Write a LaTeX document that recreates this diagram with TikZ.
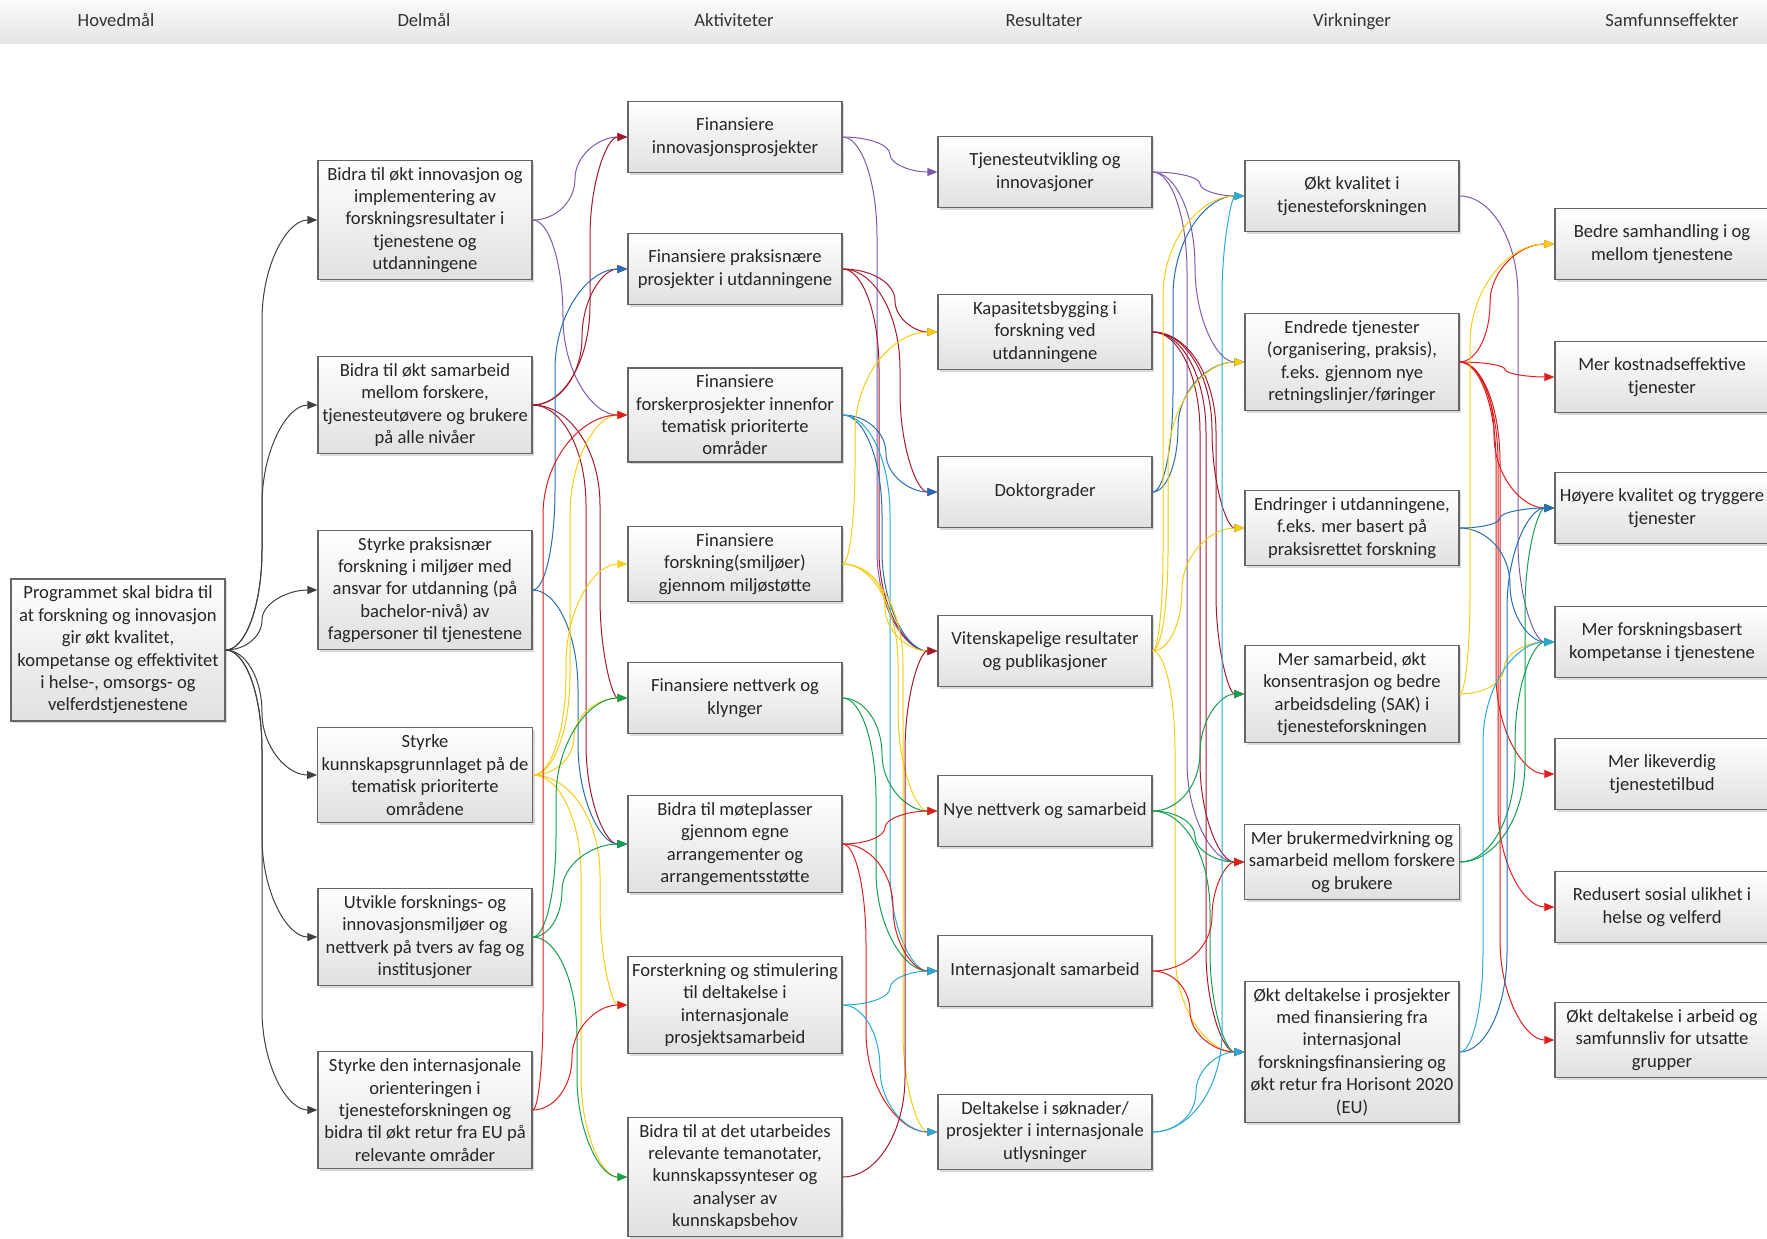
\documentclass[tikz,border=0pt]{standalone}
\usepackage{fontspec}
\setmainfont{Carlito}
\usetikzlibrary{arrows.meta, calc, shadows}
\definecolor{colGray}{RGB}{64,64,64}
\definecolor{colPurple}{RGB}{128,90,170}
\definecolor{colMaroon}{RGB}{165,25,45}
\definecolor{colRed}{RGB}{225,30,30}
\definecolor{colBlue}{RGB}{40,110,180}
\definecolor{colYellow}{RGB}{245,205,20}
\definecolor{colGreen}{RGB}{20,160,80}
\definecolor{colCyan}{RGB}{40,170,215}

% curved connector: colour, from, to, x of its vertical run
\newcommand\conn[4]{%
  \draw[link,#1] let \p1=(#2.east), \p2=(#3.west), \p3=(#4,0),
      \n1={2*(\y2>\y1)-1}, \n2={min(abs(\y2-\y1)/2,50)} in
    (\p1) .. controls ({\x1+0.55*(\x3-\x1)},\y1) and (\x3,{\y1+0.45*\n1*\n2}) .. (\x3,{\y1+\n1*\n2})
    -- (\x3,{\y2-\n1*\n2})
    .. controls (\x3,{\y2-0.45*\n1*\n2}) and ({\x2-0.55*(\x2-\x3)},\y2) .. (\p2);}

\begin{document}
\begin{tikzpicture}[
  x=0.5pt, y=-0.5pt,
  box/.style={rectangle, draw=black!60, line width=0.6pt, top color=white, bottom color=black!12,
              drop shadow={shadow xshift=1.2pt, shadow yshift=-1.2pt, opacity=0.3},
              minimum width=107pt, minimum height=35.5pt, inner xsep=2pt, inner ysep=3.5pt,
              font=\fontsize{9.3}{11.2}\selectfont, align=center, text=black!85},
  head/.style={font=\fontsize{9.3}{11.2}\selectfont, text=black!80, text height=1.6ex, text depth=0.4ex},
  link/.style={-{Triangle[length=5pt,width=4pt]}, line width=0.5pt},
]
\useasboundingbox (0,0) rectangle (1767,1238);

% header bar
\shade[top color=black!2, bottom color=black!10] (0,0) rectangle (1767,43);
\node[head] (t0) at (116,21) {Hovedmål};
\node[head] (t1) at (424,21) {Delmål};
\node[head] (t2) at (734,21) {Aktiviteter};
\node[head] (t3) at (1044,21) {Resultater};
\node[head] (t4) at (1352,21) {Virkninger};
\node[head] (t5) at (1672,21) {Samfunnseffekter};

% Hovedmål
\node[box] (h0) at (118,650) {Programmet skal bidra til\\at forskning og innovasjon\\gir økt kvalitet,\\kompetanse og effektivitet\\i helse-, omsorgs- og\\velferdstjenestene};

% Delmål
\node[box] (d1) at (425,220) {Bidra til økt innovasjon og\\implementering av\\forskningsresultater i\\tjenestene og\\utdanningene};
\node[box] (d2) at (425,405) {Bidra til økt samarbeid\\mellom forskere,\\tjenesteutøvere og brukere\\på alle nivåer};
\node[box] (d3) at (425,590) {Styrke praksisnær\\forskning i miljøer med\\ansvar for utdanning (på\\bachelor-nivå) av\\fagpersoner til tjenestene};
\node[box] (d4) at (425,775) {Styrke\\kunnskapsgrunnlaget på de\\tematisk prioriterte\\områdene};
\node[box] (d5) at (425,937) {Utvikle forsknings- og\\innovasjonsmiljøer og\\nettverk på tvers av fag og\\institusjoner};
\node[box] (d6) at (425,1110) {Styrke den internasjonale\\orienteringen i\\tjenesteforskningen og\\bidra til økt retur fra EU på\\relevante områder};

% Aktiviteter
\node[box] (a1) at (735,137) {Finansiere\\innovasjonsprosjekter};
\node[box] (a2) at (735,269) {Finansiere praksisnære\\prosjekter i utdanningene};
\node[box] (a3) at (735,415) {Finansiere\\forskerprosjekter innenfor\\tematisk prioriterte\\områder};
\node[box] (a4) at (735,564) {Finansiere\\forskning(smiljøer)\\gjennom miljøstøtte};
\node[box] (a5) at (735,698) {Finansiere nettverk og\\klynger};
\node[box] (a6) at (735,844) {Bidra til møteplasser\\gjennom egne\\arrangementer og\\arrangementsstøtte};
\node[box] (a7) at (735,1005) {Forsterkning og stimulering\\til deltakelse i\\internasjonale\\prosjektsamarbeid};
\node[box] (a8) at (735,1177) {Bidra til at det utarbeides\\relevante temanotater,\\kunnskapssynteser og\\analyser av\\kunnskapsbehov};

% Resultater
\node[box] (r1) at (1045,172) {Tjenesteutvikling og\\innovasjoner};
\node[box] (r2) at (1045,332) {Kapasitetsbygging i\\forskning ved\\utdanningene};
\node[box] (r3) at (1045,492) {Doktorgrader};
\node[box] (r4) at (1045,651) {Vitenskapelige resultater\\og publikasjoner};
\node[box] (r5) at (1045,811) {Nye nettverk og samarbeid};
\node[box] (r6) at (1045,971) {Internasjonalt samarbeid};
\node[box] (r7) at (1045,1132) {Deltakelse i søknader/\\prosjekter i internasjonale\\utlysninger};

% Virkninger
\node[box] (v1) at (1352,196) {Økt kvalitet i\\tjenesteforskningen};
\node[box] (v2) at (1352,362) {Endrede tjenester\\(organisering, praksis),\\f.eks. gjennom nye\\retningslinjer/føringer};
\node[box] (v3) at (1352,528) {Endringer i utdanningene,\\f.eks. mer basert på\\praksisrettet forskning};
\node[box] (v4) at (1352,694) {Mer samarbeid, økt\\konsentrasjon og bedre\\arbeidsdeling (SAK) i\\tjenesteforskningen};
\node[box] (v5) at (1352,862) {Mer brukermedvirkning og\\samarbeid mellom forskere\\og brukere};
\node[box] (v6) at (1352,1052) {Økt deltakelse i prosjekter\\med finansiering fra\\internasjonal\\forskningsfinansiering og\\økt retur fra Horisont 2020\\(EU)};

% Samfunnseffekter
\node[box] (s1) at (1662,244) {Bedre samhandling i og\\mellom tjenestene};
\node[box] (s2) at (1662,377) {Mer kostnadseffektive\\tjenester};
\node[box] (s3) at (1662,508) {Høyere kvalitet og tryggere\\tjenester};
\node[box] (s4) at (1662,642) {Mer forskningsbasert\\kompetanse i tjenestene};
\node[box] (s5) at (1662,774) {Mer likeverdig\\tjenestetilbud};
\node[box] (s6) at (1662,907) {Redusert sosial ulikhet i\\helse og velferd};
\node[box] (s7) at (1662,1040) {Økt deltakelse i arbeid og\\samfunnsliv for utsatte\\grupper};

% Hovedmål -> Delmål
\conn{colGray}{h0}{d1}{262}
\conn{colGray}{h0}{d2}{262}
\conn{colGray}{h0}{d3}{262}
\conn{colGray}{h0}{d4}{262}
\conn{colGray}{h0}{d5}{262}
\conn{colGray}{h0}{d6}{262}

% Delmål -> Aktiviteter
\conn{colPurple}{d1}{a1}{575}
\conn{colPurple}{d1}{a3}{563}
\conn{colMaroon}{d2}{a1}{590}
\conn{colMaroon}{d2}{a2}{582}
\conn{colMaroon}{d2}{a5}{600}
\conn{colMaroon}{d2}{a6}{586}
\conn{colBlue}{d3}{a2}{555}
\conn{colBlue}{d3}{a6}{578}
\conn{colYellow}{d4}{a3}{570}
\conn{colYellow}{d4}{a4}{566}
\conn{colYellow}{d4}{a5}{574}
\conn{colYellow}{d4}{a7}{600}
\conn{colYellow}{d4}{a8}{581}
\conn{colGreen}{d5}{a5}{556}
\conn{colGreen}{d5}{a6}{562}
\conn{colGreen}{d5}{a8}{577}
\conn{colRed}{d6}{a3}{543}
\conn{colRed}{d6}{a7}{572}

% Aktiviteter -> Resultater
\conn{colPurple}{a1}{r1}{890}
\conn{colPurple}{a1}{r4}{877}
\conn{colMaroon}{a2}{r2}{895}
\conn{colMaroon}{a2}{r3}{900}
\conn{colMaroon}{a2}{r4}{879}
\conn{colBlue}{a3}{r3}{886}
\conn{colBlue}{a3}{r4}{882}
\conn{colCyan}{a3}{r6}{890}
\conn{colYellow}{a4}{r2}{855}
\conn{colYellow}{a4}{r4}{885}
\conn{colYellow}{a4}{r5}{898}
\conn{colYellow}{a4}{r7}{903}
\conn{colGreen}{a5}{r5}{882}
\conn{colGreen}{a5}{r6}{876}
\conn{colRed}{a6}{r5}{885}
\conn{colRed}{a6}{r6}{893}
\conn{colRed}{a6}{r7}{866}
\conn{colCyan}{a7}{r6}{890}
\conn{colCyan}{a7}{r7}{880}
\conn{colMaroon}{a8}{r4}{905}

% Resultater -> Virkninger
\conn{colPurple}{r1}{v1}{1200}
\conn{colPurple}{r1}{v2}{1195}
\conn{colPurple}{r1}{v5}{1187}
\conn{colMaroon}{r2}{v3}{1212}
\conn{colMaroon}{r2}{v4}{1216}
\conn{colMaroon}{r2}{v5}{1200}
\conn{colMaroon}{r2}{v6}{1206}
\conn{colBlue}{r3}{v1}{1173}
\conn{colBlue}{r3}{v2}{1178}
\conn{colYellow}{r4}{v1}{1163}
\conn{colYellow}{r4}{v2}{1168}
\conn{colYellow}{r4}{v3}{1182}
\conn{colYellow}{r4}{v6}{1175}
\conn{colGreen}{r5}{v4}{1200}
\conn{colGreen}{r5}{v5}{1195}
\conn{colGreen}{r5}{v6}{1210}
\conn{colRed}{r6}{v5}{1212}
\conn{colRed}{r6}{v6}{1190}
\conn{colCyan}{r7}{v1}{1222}
\conn{colCyan}{r7}{v6}{1196}

% Virkninger -> Samfunnseffekter
\conn{colPurple}{v1}{s4}{1518}
\conn{colRed}{v2}{s1}{1490}
\conn{colRed}{v2}{s2}{1505}
\conn{colRed}{v2}{s3}{1494}
\conn{colRed}{v2}{s5}{1496}
\conn{colRed}{v2}{s6}{1498}
\conn{colRed}{v2}{s7}{1500}
\conn{colBlue}{v3}{s3}{1500}
\conn{colBlue}{v3}{s4}{1510}
\conn{colYellow}{v4}{s1}{1470}
\conn{colYellow}{v4}{s4}{1504}
\conn{colGreen}{v5}{s3}{1525}
\conn{colGreen}{v5}{s4}{1515}
\conn{colBlue}{v6}{s3}{1507}
\conn{colCyan}{v6}{s4}{1483}
\end{tikzpicture}
\end{document}
